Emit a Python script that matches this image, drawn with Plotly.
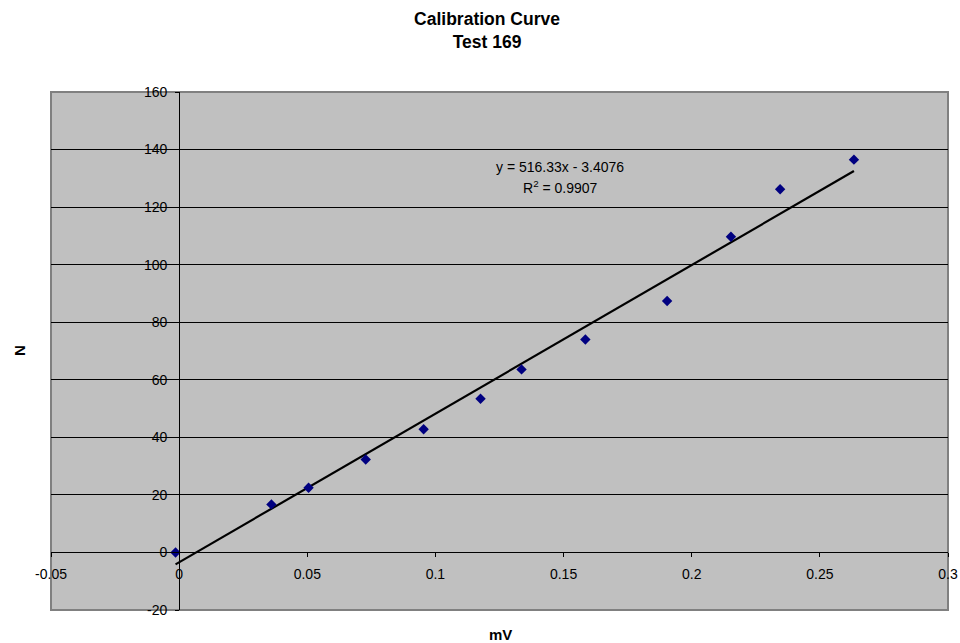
import plotly.graph_objects as go

# ---- data ----
mv = [-0.0014, 0.0360, 0.0505, 0.0728, 0.0954, 0.1176, 0.1336, 0.1585, 0.1904, 0.2153, 0.2345, 0.2633]
n_vals = [0.0, 16.7, 22.5, 32.3, 42.8, 53.4, 63.6, 74.0, 87.4, 109.7, 126.2, 136.5]
slope = 516.33
intercept = -3.4076
r2 = 0.9907

x_tickvals = [-0.05, 0, 0.05, 0.1, 0.15, 0.2, 0.25, 0.3]
x_ticktext = ["-0.05", "0", "0.05", "0.1", "0.15", "0.2", "0.25", "0.3"]
y_tickvals = [-20, 0, 20, 40, 60, 80, 100, 120, 140, 160]
y_ticktext = ["-20", "0", "20", "40", "60", "80", "100", "120", "140", "160"]

X_RANGE = [-0.05, 0.3]
Y_RANGE = [-20, 160]

W, H = 960, 643
L, R, T, B = 51, 12, 92, 33
PW, PH = W - L - R, H - T - B


def px_x(px):
    return (px - L) / PW


def px_y(py):
    return (H - B - py) / PH


trend_x = [min(mv), max(mv)]
trend_y = [slope * v + intercept for v in trend_x]

fig = go.Figure()
fig.add_trace(go.Scatter(
    x=trend_x, y=trend_y, mode="lines",
    line=dict(color="black", width=2.2), hoverinfo="skip", showlegend=False))
fig.add_trace(go.Scatter(
    x=mv, y=n_vals, mode="markers",
    marker=dict(symbol="diamond", size=8, color="#000080"),
    showlegend=False))

font = "Liberation Sans, Arial, sans-serif"

fig.update_layout(
    width=W, height=H,
    autosize=False,
    margin=dict(l=L, r=R, t=T, b=B, autoexpand=False),
    paper_bgcolor="white",
    plot_bgcolor="#C0C0C0",
    font=dict(family=font, size=14, color="black"),
    title=dict(
        text="<b>Calibration Curve<br>Test 169</b>",
        x=487 / W, xanchor="center",
        y=1 - 25 / H, yanchor="middle",
        font=dict(family=font, size=17.5, color="black")),
    xaxis=dict(
        range=X_RANGE, tickvals=x_tickvals, ticktext=x_ticktext,
        showgrid=False, zeroline=False, automargin=False,
        showline=True, linecolor="black", linewidth=1,
        anchor="free", position=(0 - Y_RANGE[0]) / (Y_RANGE[1] - Y_RANGE[0]),
        ticks="outside", ticklen=4, tickcolor="black", tickwidth=1,
        ticklabelstandoff=5,
        tickfont=dict(family=font, size=14, color="black")),
    yaxis=dict(
        range=Y_RANGE, tickvals=y_tickvals, ticktext=y_ticktext,
        showgrid=True, gridcolor="#000000", gridwidth=1,
        zeroline=False, automargin=False,
        showline=True, linecolor="black", linewidth=1,
        anchor="free", position=(0 - X_RANGE[0]) / (X_RANGE[1] - X_RANGE[0]),
        ticks="outside", ticklen=4, tickcolor="black", tickwidth=1,
        ticklabelstandoff=5,
        tickfont=dict(family=font, size=14, color="black")),
    shapes=[dict(type="rect", xref="paper", yref="paper", x0=0, y0=0, x1=1, y1=1,
                 line=dict(color="#808080", width=2), layer="between")],
    annotations=[
        dict(text=f"y = {slope}x - {abs(intercept)}", xref="paper", yref="paper",
             x=px_x(560), y=px_y(167), showarrow=False, xanchor="center", yanchor="middle",
             font=dict(family=font, size=14, color="black")),
        dict(text=f"R<sup>2</sup> = {r2}", xref="paper", yref="paper",
             x=px_x(560), y=px_y(187), showarrow=False, xanchor="center", yanchor="middle",
             font=dict(family=font, size=14, color="black")),
        dict(text="<b>N</b>", xref="paper", yref="paper", textangle=-90,
             x=px_x(19), y=px_y(351), showarrow=False, xanchor="center", yanchor="middle",
             font=dict(family=font, size=15, color="black")),
        dict(text="<b>mV</b>", xref="paper", yref="paper",
             x=px_x(500), y=px_y(634), showarrow=False, xanchor="center", yanchor="middle",
             font=dict(family=font, size=15, color="black")),
    ],
)

fig.write_html("out.html")
